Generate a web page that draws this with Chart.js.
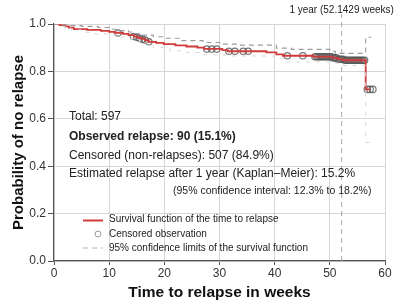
<!DOCTYPE html>
<html>
<head>
<meta charset="utf-8">
<script src="https://cdn.jsdelivr.net/npm/chart.js@4.4.1/dist/chart.umd.min.js"></script>
<style>
html,body{margin:0;padding:0;background:#fff;}
#wrap{width:402px;height:307px;position:relative;}
</style>
</head>
<body>
<div id="wrap"><canvas id="c" width="402" height="307"></canvas></div>
<script>
// Kaplan-Meier survival function (value holds from its time onward)
const kmTimes = [0, 1, 2, 2.7, 3.6, 6, 8.5, 10, 11, 12.5, 13.5, 14.5, 15.2, 15.8, 16.5, 17.2, 18.5, 19.9, 22, 24, 26, 27.2, 30.5, 31.5, 38.5, 40.3, 41.5, 47, 50.5, 51.5, 52.5, 56.5, 57.3];
const kmSurv  = [1.0, 0.995, 0.99, 0.985, 0.978, 0.975, 0.971, 0.967, 0.963, 0.958, 0.953, 0.947, 0.942, 0.937, 0.931, 0.925, 0.92, 0.915, 0.91, 0.905, 0.9, 0.895, 0.89, 0.885, 0.88, 0.872, 0.866, 0.862, 0.857, 0.851, 0.847, 0.724, 0.724];

// Upper 95% confidence limit
const upTimes = [0, 1.5, 2.7, 5, 8, 10, 12, 13.5, 14.5, 16, 18, 20, 23, 27, 30, 33, 40.3, 43, 50, 51, 56.5, 57.5];
const upVals  = [1.0, 0.997, 0.993, 0.99, 0.985, 0.978, 0.972, 0.966, 0.96, 0.953, 0.946, 0.94, 0.93, 0.922, 0.915, 0.911, 0.898, 0.893, 0.885, 0.876, 0.944, 0.944];

// Lower 95% confidence limit
const loTimes = [0, 1.5, 3, 5, 7, 10, 12, 14, 15.5, 17, 18, 21, 23, 27, 31, 40, 42, 50, 52, 56.5, 57.5];
const loVals  = [1.0, 0.99, 0.975, 0.965, 0.958, 0.955, 0.945, 0.935, 0.92, 0.91, 0.9, 0.887, 0.88, 0.87, 0.865, 0.855, 0.84, 0.835, 0.825, 0.5, 0.5];

// Censored observations
const censTimes = [11.6, 14.4, 15.0, 15.5, 16.0, 16.5, 17.2,
  27.7, 28.6, 29.5, 31.7, 32.8, 34.3, 35.2, 42.3, 45.1,
  47.3, 47.6, 47.9, 48.2, 48.5, 48.8, 49.1, 49.4, 49.7, 50.0, 50.3, 50.6, 50.9, 51.2, 51.5, 51.8, 52.1, 52.4, 52.7, 53.0, 53.3, 53.6, 53.9, 54.2, 54.5, 54.8, 55.1, 55.4, 55.7, 56.0, 56.3,
  56.8, 57.3, 57.8];
const censSurv = [0.962, 0.947, 0.944, 0.94, 0.936, 0.932, 0.925,
  0.894, 0.894, 0.894, 0.885, 0.885, 0.885, 0.885, 0.866, 0.866,
  0.862, 0.862, 0.862, 0.862, 0.862, 0.862, 0.862, 0.862, 0.862, 0.862, 0.862, 0.857, 0.857, 0.857, 0.851, 0.851, 0.851, 0.851, 0.847, 0.847, 0.847, 0.847, 0.847, 0.847, 0.847, 0.847, 0.847, 0.847, 0.847, 0.847, 0.847,
  0.724, 0.724, 0.724];

const oneYear = 52.1429;
const xTicks = [0, 10, 20, 30, 40, 50, 60];
const yTicks = [0, 0.2, 0.4, 0.6, 0.8, 1.0];

const infoLines = [
  {text: 'Total: 597', bold: false},
  {text: 'Observed relapse: 90 (15.1%)', bold: true},
  {text: 'Censored (non-relapses): 507 (84.9%)', bold: false},
  {text: 'Estimated relapse after 1 year (Kaplan\u2013Meier): 15.2%', bold: false}
];
const ciText = '(95% confidence interval: 12.3% to 18.2%)';
const legendLabels = ['Survival function of the time to relapse', 'Censored observation', '95% confidence limits of the survival function'];
const yearLabel = '1 year (52.1429 weeks)';

const FONT = "'Liberation Sans', Arial, sans-serif";
const zip = (xs, ys) => xs.map((x, i) => ({x: x, y: ys[i]}));

const overlay = {
  id: 'overlay',
  beforeDatasetsDraw(chart) {
    const ctx = chart.ctx, xs = chart.scales.x, ys = chart.scales.y;
    const px = xs.getPixelForValue(oneYear);
    ctx.save();
    ctx.strokeStyle = '#a8a8a8';
    ctx.lineWidth = 1;
    ctx.setLineDash([5, 4]);
    ctx.beginPath();
    ctx.moveTo(px, ys.getPixelForValue(0));
    ctx.lineTo(px, 14);
    ctx.stroke();
    ctx.restore();
  },
  afterDatasetsDraw(chart) {
    const ctx = chart.ctx, xs = chart.scales.x;
    const px = xs.getPixelForValue(oneYear);
    ctx.save();
    ctx.fillStyle = '#222';
    ctx.textBaseline = 'middle';
    ctx.font = '10px ' + FONT;
    ctx.textAlign = 'center';
    ctx.fillText(yearLabel, px, 10);
    ctx.textAlign = 'left';
    const ly = [117, 137, 156, 174];
    infoLines.forEach((l, i) => {
      ctx.font = (l.bold ? 'bold ' : '') + '12px ' + FONT;
      ctx.fillText(l.text, 69, ly[i]);
    });
    ctx.font = '10.5px ' + FONT;
    ctx.fillText(ciText, 173, 191);
    // legend
    ctx.font = '10px ' + FONT;
    ctx.fillText(legendLabels[0], 109, 219.5);
    ctx.fillText(legendLabels[1], 109, 234);
    ctx.fillText(legendLabels[2], 109, 248);
    ctx.strokeStyle = '#d03a3a';
    ctx.lineWidth = 2;
    ctx.beginPath(); ctx.moveTo(83, 220.5); ctx.lineTo(103, 220.5); ctx.stroke();
    ctx.strokeStyle = '#9a9a9a';
    ctx.lineWidth = 1;
    ctx.beginPath(); ctx.arc(98, 234, 3, 0, Math.PI * 2); ctx.stroke();
    ctx.strokeStyle = '#b0b0b0';
    ctx.setLineDash([5, 4]);
    ctx.beginPath(); ctx.moveTo(83, 248); ctx.lineTo(103, 248); ctx.stroke();
    ctx.restore();
  }
};

new Chart(document.getElementById('c'), {
  type: 'line',
  data: {
    datasets: [
      {label: 'upper', data: zip(upTimes, upVals), stepped: 'before', borderColor: '#9c9c9c', borderWidth: 1.1, borderDash: [5, 4], pointRadius: 0, fill: false},
      {label: 'lower', data: zip(loTimes, loVals), stepped: 'before', borderColor: '#d8d8d8', borderWidth: 1, borderDash: [4, 6], pointRadius: 0, fill: false},
      {label: 'km', data: zip(kmTimes, kmSurv), stepped: 'before', borderColor: '#d03a3a', borderWidth: 1.8, pointRadius: 0, fill: false},
      {label: 'censored', data: zip(censTimes, censSurv), showLine: false, pointRadius: 3.2, pointBorderWidth: 1.2, pointBorderColor: 'rgba(85,85,85,0.8)', pointBackgroundColor: 'rgba(0,0,0,0)'}
    ]
  },
  options: {
    responsive: false,
    animation: false,
    events: [],
    layout: {padding: {top: 24, right: 17, left: 0, bottom: 0}},
    plugins: {legend: {display: false}, tooltip: {enabled: false}},
    scales: {
      x: {
        type: 'linear', min: 0, max: 60,
        afterBuildTicks: s => { s.ticks = xTicks.map(v => ({value: v})); },
        afterFit: s => { s.height = 46; },
        ticks: {font: {family: FONT, size: 12}, color: '#333', padding: 1, maxRotation: 0},
        grid: {color: '#d6d6d6', tickColor: '#555', tickLength: 4},
        border: {color: '#555', width: 1.2},
        title: {display: true, text: 'Time to relapse in weeks', font: {family: FONT, size: 15.5, weight: 'bold'}, color: '#111', padding: {top: 0, bottom: 5}}
      },
      y: {
        type: 'linear', min: 0, max: 1,
        afterBuildTicks: s => { s.ticks = yTicks.map(v => ({value: v})); },
        afterFit: s => { s.width = 54; },
        ticks: {font: {family: FONT, size: 12}, color: '#333', padding: 2, callback: v => Number(v).toFixed(1)},
        grid: {color: '#d6d6d6', tickColor: '#555', tickLength: 6},
        border: {color: '#555', width: 1.2},
        title: {display: true, text: 'Probability of no relapse', font: {family: FONT, size: 15, weight: 'bold'}, color: '#111', padding: {top: 10, bottom: 0}}
      }
    }
  },
  plugins: [overlay]
});
</script>
</body>
</html>
